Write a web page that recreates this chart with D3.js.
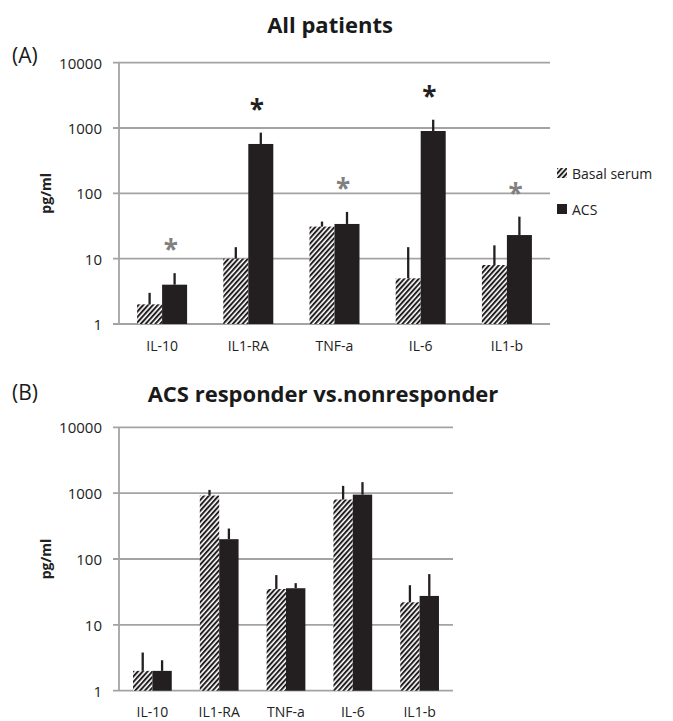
<!DOCTYPE html>
<html>
<head>
<meta charset="utf-8">
<script src="https://cdn.jsdelivr.net/npm/d3@7/dist/d3.min.js"></script>
<style>
  html, body { margin: 0; padding: 0; background: #fff; }
  svg { display: block; font-family: "Open Sans", sans-serif; }
</style>
</head>
<body>
<svg id="chart" width="673" height="721"></svg>
<script>
// Cytokine levels (pg/ml), log scale
const categories = ["IL-10", "IL1-RA", "TNF-a", "IL-6", "IL1-b"];
const seriesNames = ["Basal serum", "ACS"];
const yTicks = [1, 10, 100, 1000, 10000];

// (A) All patients
const allBasal = [2, 10, 31, 5, 8];
const allBasalErr = [3, 15, 37, 15, 16];
const allAcs = [4, 570, 34, 900, 23];
const allAcsErr = [6, 850, 52, 1340, 44];
const allSignif = ["gray", "black", "gray", "black", "gray"];

// (B) ACS responder vs. nonresponder
const respBasal = [2, 920, 35, 800, 22];
const respBasalErr = [3.8, 1120, 57, 1290, 40];
const respAcs = [2, 200, 36, 950, 27.5];
const respAcsErr = [2.9, 290, 43, 1470, 59];

const svg = d3.select("#chart");
const ink = "#231f20";
const gridColor = "#a3a3a3";

// Diagonal hatch fill for the basal-serum series
const defs = svg.append("defs");
defs.append("pattern")
  .attr("id", "hatch")
  .attr("patternUnits", "userSpaceOnUse")
  .attr("width", 3.6).attr("height", 3.6)
  .attr("patternTransform", "rotate(42)")
  .call(p => {
    p.append("rect").attr("width", 3.6).attr("height", 3.6).attr("fill", "#fff");
    p.append("rect").attr("width", 2).attr("height", 3.6).attr("fill", ink);
  });

const fills = ["url(#hatch)", ink];

function panel(opts) {
  const { x0, x1, yTop, yBottom, basal, basalErr, acs, acsErr, signif, title, titleX, titleY, tag, tagY } = opts;
  const g = svg.append("g");

  const x = d3.scaleBand().domain(categories).range([x0, x1]);
  const inner = d3.scaleBand().domain(seriesNames).range([0, x.bandwidth() * 0.58])
    .paddingInner(0).paddingOuter(0);
  const offset = (x.bandwidth() - inner.range()[1]) / 2;
  const y = d3.scaleLog().domain([1, 10000]).range([yBottom, yTop]);

  // horizontal gridlines with outer tick marks
  g.append("g").selectAll("line").data(yTicks).join("line")
    .attr("x1", x0 - 6).attr("x2", x1)
    .attr("y1", d => y(d)).attr("y2", d => y(d))
    .attr("stroke", gridColor).attr("stroke-width", 1.8);

  // vertical axis line
  g.append("line")
    .attr("x1", x0).attr("x2", x0).attr("y1", y(10000)).attr("y2", y(1))
    .attr("stroke", gridColor).attr("stroke-width", 1.8);

  // tick labels
  g.append("g").selectAll("text").data(yTicks).join("text")
    .attr("x", x0 - 17).attr("y", d => y(d))
    .attr("text-anchor", "end").attr("dominant-baseline", "central")
    .attr("font-size", 15).attr("fill", "#222")
    .text(d => d3.format("d")(d));

  // category labels
  g.append("g").selectAll("text").data(categories).join("text")
    .attr("x", d => x(d) + x.bandwidth() / 2).attr("y", yBottom + 21)
    .attr("text-anchor", "middle").attr("dominant-baseline", "central")
    .attr("font-size", 14).attr("fill", "#222")
    .text(d => d);

  // bars and error bars
  const rows = categories.map((c, i) => [
    { c, s: seriesNames[0], v: basal[i], e: basalErr[i], k: 0 },
    { c, s: seriesNames[1], v: acs[i], e: acsErr[i], k: 1 }
  ]).flat();

  g.append("g").selectAll("rect").data(rows).join("rect")
    .attr("x", d => x(d.c) + offset + inner(d.s))
    .attr("width", inner.bandwidth())
    .attr("y", d => y(d.v))
    .attr("height", d => y(1) - y(d.v))
    .attr("fill", d => fills[d.k]);

  g.append("g").selectAll("line").data(rows).join("line")
    .attr("x1", d => x(d.c) + offset + inner(d.s) + inner.bandwidth() / 2)
    .attr("x2", d => x(d.c) + offset + inner(d.s) + inner.bandwidth() / 2)
    .attr("y1", d => y(d.v)).attr("y2", d => y(d.e))
    .attr("stroke", ink).attr("stroke-width", 2.3);

  // significance markers above the ACS error bars
  if (signif) {
    g.append("g").selectAll("text").data(categories).join("text")
      .attr("x", d => x(d) + x.bandwidth() * 0.6)
      .attr("y", (d, i) => y(acsErr[i]) - 14)
      .attr("text-anchor", "middle")
      .attr("font-size", 26).attr("font-weight", "bold")
      .attr("fill", (d, i) => signif[i] === "gray" ? "#808080" : ink)
      .text("*");
  }

  // y-axis title
  g.append("text")
    .attr("transform", `translate(45,${(yTop + yBottom) / 2}) rotate(-90)`)
    .attr("text-anchor", "middle").attr("dominant-baseline", "central")
    .attr("font-size", 14).attr("font-weight", "bold").attr("fill", "#222")
    .text("pg/ml");

  // panel title and tag
  g.append("text")
    .attr("x", titleX).attr("y", titleY)
    .attr("text-anchor", "middle")
    .attr("font-size", 22).attr("font-weight", "bold").attr("fill", "#1a1a1a")
    .text(title);
  g.append("text")
    .attr("x", 12).attr("y", tagY)
    .attr("dominant-baseline", "central")
    .attr("font-size", 21).attr("fill", "#1a1a1a")
    .text(tag);

  return { x, y };
}

panel({
  x0: 119, x1: 550, yTop: 62.7, yBottom: 324,
  basal: allBasal, basalErr: allBasalErr, acs: allAcs, acsErr: allAcsErr,
  signif: allSignif, title: "All patients", titleX: 330, titleY: 33,
  tag: "(A)", tagY: 55
});

panel({
  x0: 119, x1: 453, yTop: 427.3, yBottom: 690.7,
  basal: respBasal, basalErr: respBasalErr, acs: respAcs, acsErr: respAcsErr,
  signif: null, title: "ACS responder vs.nonresponder", titleX: 323, titleY: 402,
  tag: "(B)", tagY: 392
});

// legend
const legend = svg.append("g").attr("transform", "translate(557,0)");
const legendY = [173, 209];
seriesNames.forEach((name, i) => {
  legend.append("rect")
    .attr("x", 0).attr("y", legendY[i] - 5)
    .attr("width", 10).attr("height", 10)
    .attr("fill", fills[i]);
  legend.append("text")
    .attr("x", 15).attr("y", legendY[i])
    .attr("dominant-baseline", "central")
    .attr("font-size", 14).attr("fill", "#222")
    .text(name);
});
</script>
</body>
</html>
